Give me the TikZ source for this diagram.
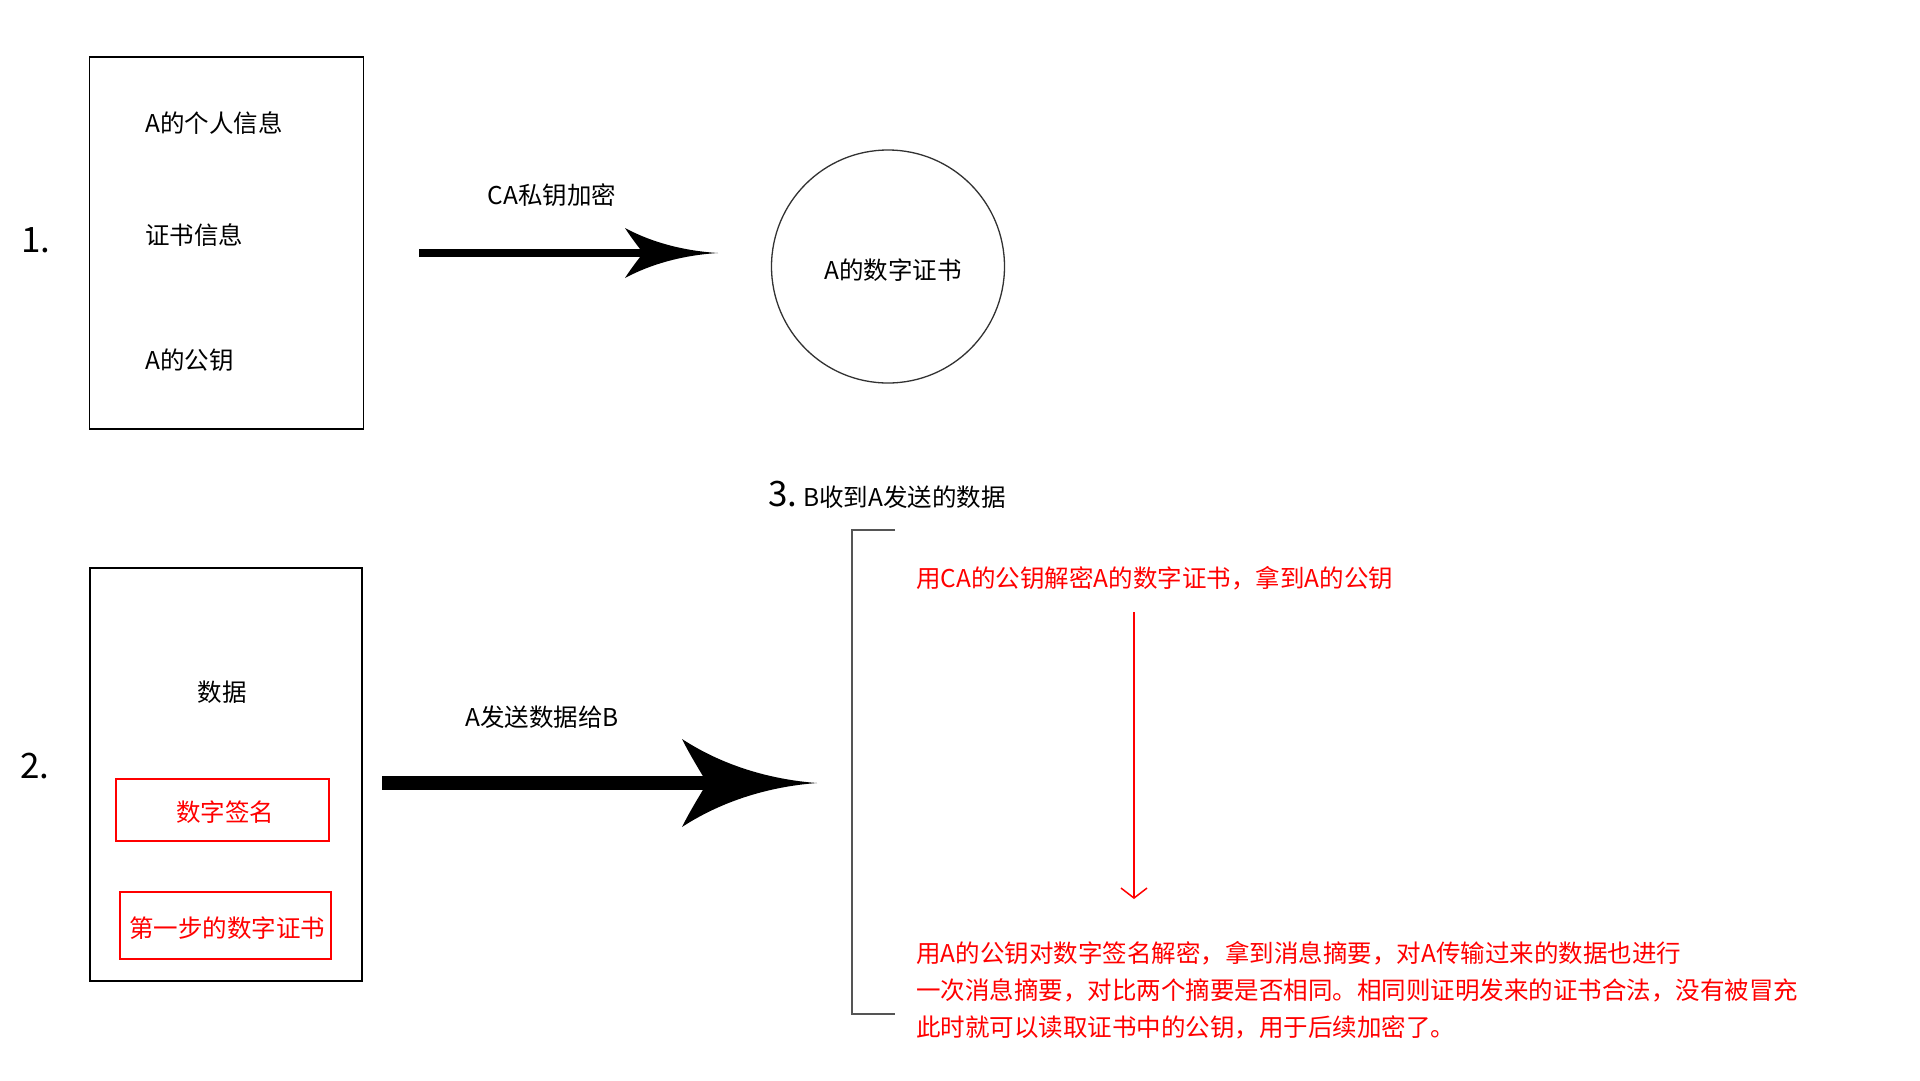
\documentclass[tikz,border=0pt]{standalone}
\usepackage{fontspec}
\setmainfont{Noto Sans CJK SC}
\usetikzlibrary{arrows.meta,calc}
\definecolor{myred}{RGB}{255,0,0}
\definecolor{bracketgray}{RGB}{85,85,85}
\definecolor{circgray}{RGB}{50,50,50}
\newcommand\bighead[4]{%
  \begin{scope}[shift={(#1)}]
    \fill[black] (0,0) .. controls (-0.35*#2,-0.08*#3) and (-0.7*#2,-0.4*#3) .. (-#2,-#3)
      .. controls ({-#2+0.35*(#2-#4)},{-0.6*#3}) and ({-#4-0.2*(#2-#4)},{-0.2*#3}) .. (-#4,0)
      .. controls ({-#4-0.2*(#2-#4)},{0.2*#3}) and ({-#2+0.35*(#2-#4)},{0.6*#3}) .. (-#2,#3)
      .. controls (-0.7*#2,0.4*#3) and (-0.35*#2,0.08*#3) .. (0,0) -- cycle;
  \end{scope}}
\tikzset{
  txt/.style={inner sep=0pt, font=\fontsize{24.5}{29}\selectfont},
  numtxt/.style={inner sep=0pt, font=\fontsize{35}{40}\selectfont},
  redtxt/.style={txt, text=myred},
  bigbox/.style={draw=black, line width=1.5pt, rectangle, inner sep=0pt},
  redbox/.style={draw=myred, line width=1.5pt, rectangle, inner sep=0pt},
  certcircle/.style={draw=circgray, line width=1.3pt, circle, inner sep=0pt, minimum size=233pt},
  shaft/.style={draw=black, line cap=butt},
  bracketline/.style={draw=bracketgray, line width=2pt},
  redarrow/.style={draw=myred, line width=1.5pt, -{Straight Barb[length=10pt,width=26pt,line width=1.5pt]}},
}
\begin{document}
\begin{tikzpicture}[x=1pt,y=-1pt]
  \useasboundingbox[fill=white] (0,0) rectangle (1920,1080);

  % ---- part 1 ----
  \node[numtxt, anchor=west] (n1) at (21,240.5) {1.};
  \node[bigbox, minimum width=274pt, minimum height=372pt] (box1) at (226.5,243) {};
  \node[txt, anchor=west] (t1) at (145,123) {A的个人信息};
  \node[txt, anchor=west] (t2) at (145,235) {证书信息};
  \node[txt, anchor=west] (t3) at (145,360) {A的公钥};

  \node[txt] (lab1) at (552,195) {CA私钥加密};
  \coordinate (a1s) at (419,253);
  \coordinate (a1n) at (645,253);
  \coordinate (a1e) at (718,253);
  \draw[shaft, line width=8pt] (a1s) -- (a1n);
  \bighead{a1e}{93}{25}{75}

  \node[certcircle] (cert) at (888,266.5) {};
  \node[txt] (certtxt) at (893,270) {A的数字证书};

  % ---- part 2 ----
  \node[numtxt, anchor=west] (n2) at (20,766) {2.};
  \node[bigbox, minimum width=272pt, minimum height=413pt] (box2) at (226,774.5) {};
  \node[txt] (data) at (222,692) {数据};
  \node[redbox, minimum width=213pt, minimum height=62pt] (sigbox) at (222.5,810) {};
  \node[redtxt] (sigtxt) at (225,812) {数字签名};
  \node[redbox, minimum width=211pt, minimum height=67pt] (certbox) at (225.5,925.5) {};
  \node[redtxt] (certbtxt) at (227,928) {第一步的数字证书};

  \node[txt] (lab2) at (542,717) {A发送数据给B};
  \coordinate (a2s) at (382,783);
  \coordinate (a2n) at (712,783);
  \coordinate (a2e) at (817,783);
  \draw[shaft, line width=14pt] (a2s) -- (a2n);
  \bighead{a2e}{135}{44}{110}

  % ---- part 3 ----
  \node[anchor=base west, inner sep=0pt] (n3) at (768,506)
    {{\fontsize{35}{40}\selectfont 3.}\hspace{6pt}{\fontsize{24.5}{29}\selectfont B收到A发送的数据}};

  \coordinate (br1) at (895,530);
  \coordinate (br2) at (852,530);
  \coordinate (br3) at (852,1014);
  \coordinate (br4) at (895,1014);
  \draw[bracketline] (br1) -- (br2) -- (br3) -- (br4);

  \node[redtxt, anchor=west] (s1) at (916,578) {用CA的公钥解密A的数字证书，拿到A的公钥};
  \coordinate (ra1) at (1134,612);
  \coordinate (ra2) at (1134,899);
  \draw[redarrow] (ra1) -- (ra2);

  \node[redtxt, anchor=west] (p1) at (916,953) {用A的公钥对数字签名解密，拿到消息摘要，对A传输过来的数据也进行};
  \node[redtxt, anchor=west] (p2) at (916,990) {一次消息摘要，对比两个摘要是否相同。相同则证明发来的证书合法，没有被冒充};
  \node[redtxt, anchor=west] (p3) at (916,1027) {此时就可以读取证书中的公钥，用于后续加密了。};
\end{tikzpicture}
\end{document}
